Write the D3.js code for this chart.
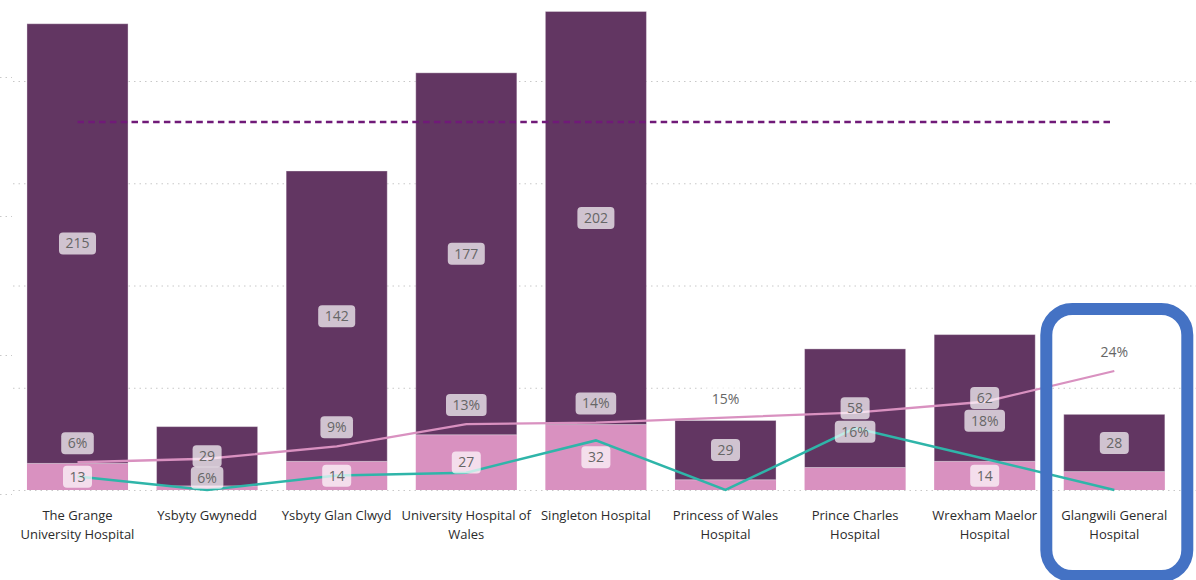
<!DOCTYPE html>
<html>
<head>
<meta charset="utf-8">
<script src="https://cdn.jsdelivr.net/npm/d3@7"></script>
<style>
  body { margin: 0; background: #fff; }
  svg { display: block; font-family: "Segoe UI", "Open Sans", sans-serif; }
</style>
</head>
<body>
<div id="chart-area"></div>
<script>
var hospitals = ["The Grange University Hospital", "Ysbyty Gwynedd", "Ysbyty Glan Clwyd",
  "University Hospital of Wales", "Singleton Hospital", "Princess of Wales Hospital",
  "Prince Charles Hospital", "Wrexham Maelor Hospital", "Glangwili General Hospital"];
var lowerCounts = [13, 2, 14, 27, 32, 5, 11, 14, 9];
var upperCounts = [215, 29, 142, 177, 202, 29, 58, 62, 28];
var pinkRate = [0.056, 0.063, 0.088, 0.133, 0.136, 0.146, 0.156, 0.178, 0.240];
var tealRate = [0.027, 0, 0.029, 0.035, 0.100, 0, 0.125, 0.063, 0];
var targetLine = 180;
var gridTicks = [0, 50, 100, 150, 200];
var stubTicks = [0, 1, 2, 3];

var width = 1196, height = 580;
var darkCol = "#623662", pinkCol = "#d991c0", tealCol = "#2fb5a9";

var svg = d3.select("#chart-area").append("svg")
  .attr("width", width)
  .attr("height", height);

var x = d3.scaleBand()
  .domain(hospitals)
  .range([12.7, 1179.1])
  .paddingInner(0.22)
  .paddingOuter(0.11);

var y = d3.scaleLinear().domain([0, 200]).range([490, 81]);
var y2 = d3.scaleLinear().domain([0, 0.24]).range([490, 371]);
var yStub = d3.scaleLinear().domain([0, 3]).range([494, 77]);

// gridlines
svg.append("g").selectAll("line")
  .data(gridTicks)
  .enter().append("line")
  .attr("x1", 13).attr("x2", width)
  .attr("y1", d => y(d) + 0.5).attr("y2", d => y(d) + 0.5)
  .attr("stroke", "#c8c8c8")
  .attr("stroke-dasharray", "1.5,4");

svg.append("g").selectAll("line")
  .data(stubTicks)
  .enter().append("line")
  .attr("x1", 0).attr("x2", 12)
  .attr("y1", d => yStub(d) + 0.5).attr("y2", d => yStub(d) + 0.5)
  .attr("stroke", "#c8c8c8")
  .attr("stroke-dasharray", "1.5,4");

// bars
var data = hospitals.map((h, i) => ({name: h, lo: lowerCounts[i], hi: upperCounts[i], p: pinkRate[i], t: tealRate[i]}));
var bars = svg.append("g");

bars.selectAll(".lo")
  .data(data).enter().append("rect")
  .attr("class", "lo")
  .attr("x", d => x(d.name))
  .attr("width", x.bandwidth())
  .attr("y", d => y(d.lo))
  .attr("height", d => y(0) - y(d.lo))
  .attr("fill", pinkCol);

bars.selectAll(".hi")
  .data(data).enter().append("rect")
  .attr("class", "hi")
  .attr("x", d => x(d.name))
  .attr("width", x.bandwidth())
  .attr("y", d => y(d.lo + d.hi))
  .attr("height", d => y(d.lo) - y(d.lo + d.hi))
  .attr("fill", darkCol)
  .attr("stroke", "rgba(255,255,255,0.35)")
  .attr("stroke-width", 1);

// target dashed line
svg.append("line")
  .attr("x1", x(hospitals[0]) + x.bandwidth() / 2)
  .attr("x2", x(hospitals[hospitals.length - 1]) + x.bandwidth() / 2)
  .attr("y1", y(targetLine)).attr("y2", y(targetLine))
  .attr("stroke", "#701a78")
  .attr("stroke-width", 2.5)
  .attr("stroke-dasharray", "6.5,4.3");

var cx = d => x(d.name) + x.bandwidth() / 2;

svg.append("path")
  .datum(data)
  .attr("fill", "none")
  .attr("stroke", tealCol)
  .attr("stroke-width", 2.5)
  .attr("d", d3.line().x(cx).y(d => y2(d.t)));

svg.append("path")
  .datum(data)
  .attr("fill", "none")
  .attr("stroke", pinkCol)
  .attr("stroke-width", 2.3)
  .attr("d", d3.line().x(cx).y(d => y2(d.p)));

// data labels
var labels = svg.append("g").attr("font-size", "14px");
var boxH = 22;
var placed = [];

function addLabel(px, py, txt) {
  var g = labels.append("g").attr("transform", "translate(" + px + "," + py + ")");
  var rect = g.append("rect").attr("fill", "#fff").attr("fill-opacity", 0.7).attr("rx", 4);
  var t = g.append("text")
    .attr("text-anchor", "middle")
    .attr("dy", "0.35em")
    .attr("fill", "#666")
    .text(txt);
  var w = t.node().getComputedTextLength() + 13;
  rect.attr("x", -w / 2).attr("y", -boxH / 2).attr("width", w).attr("height", boxH);
}

data.forEach((d, i) => {
  var c = cx(d);
  placed[i] = [];
  var hiMid = (y(d.lo) + y(d.lo + d.hi)) / 2;
  addLabel(c, hiMid, d.hi);
  placed[i].push(hiMid);
  if (y(0) - y(d.lo) >= 24) {
    var loMid = (y(0) + y(d.lo)) / 2;
    addLabel(c, loMid, d.lo);
    placed[i].push(loMid);
  }
});

data.forEach((d, i) => {
  var c = cx(d);
  var py = y2(d.p) - 19;
  var hit = placed[i].some(m => Math.abs(m - py) < boxH);
  if (hit) py = y2(d.p) + 19;
  addLabel(c, py, d3.format(".0%")(d.p));
});

// category labels
var cats = svg.append("g").attr("font-size", "13px").attr("fill", "#2b2b2b");
hospitals.forEach(h => {
  var t = cats.append("text")
    .attr("x", x(h) + x.bandwidth() / 2)
    .attr("y", 520)
    .attr("text-anchor", "middle");
  var words = h.split(" "), line = [];
  var ts = t.append("tspan").attr("x", x(h) + x.bandwidth() / 2).attr("dy", 0);
  words.forEach(w => {
    line.push(w);
    ts.text(line.join(" "));
    if (ts.node().getComputedTextLength() > x.step() + 3 && line.length > 1) {
      line.pop();
      ts.text(line.join(" "));
      line = [w];
      ts = t.append("tspan").attr("x", x(h) + x.bandwidth() / 2).attr("dy", "19px").text(w);
    }
  });
});

// highlight box round last hospital
var last = hospitals[hospitals.length - 1];
svg.append("rect")
  .attr("x", x(last) + x.bandwidth() / 2 - 68)
  .attr("y", 309)
  .attr("width", 141)
  .attr("height", 267)
  .attr("rx", 26)
  .attr("fill", "none")
  .attr("stroke", "#4472c4")
  .attr("stroke-width", 12);
</script>
</body>
</html>
